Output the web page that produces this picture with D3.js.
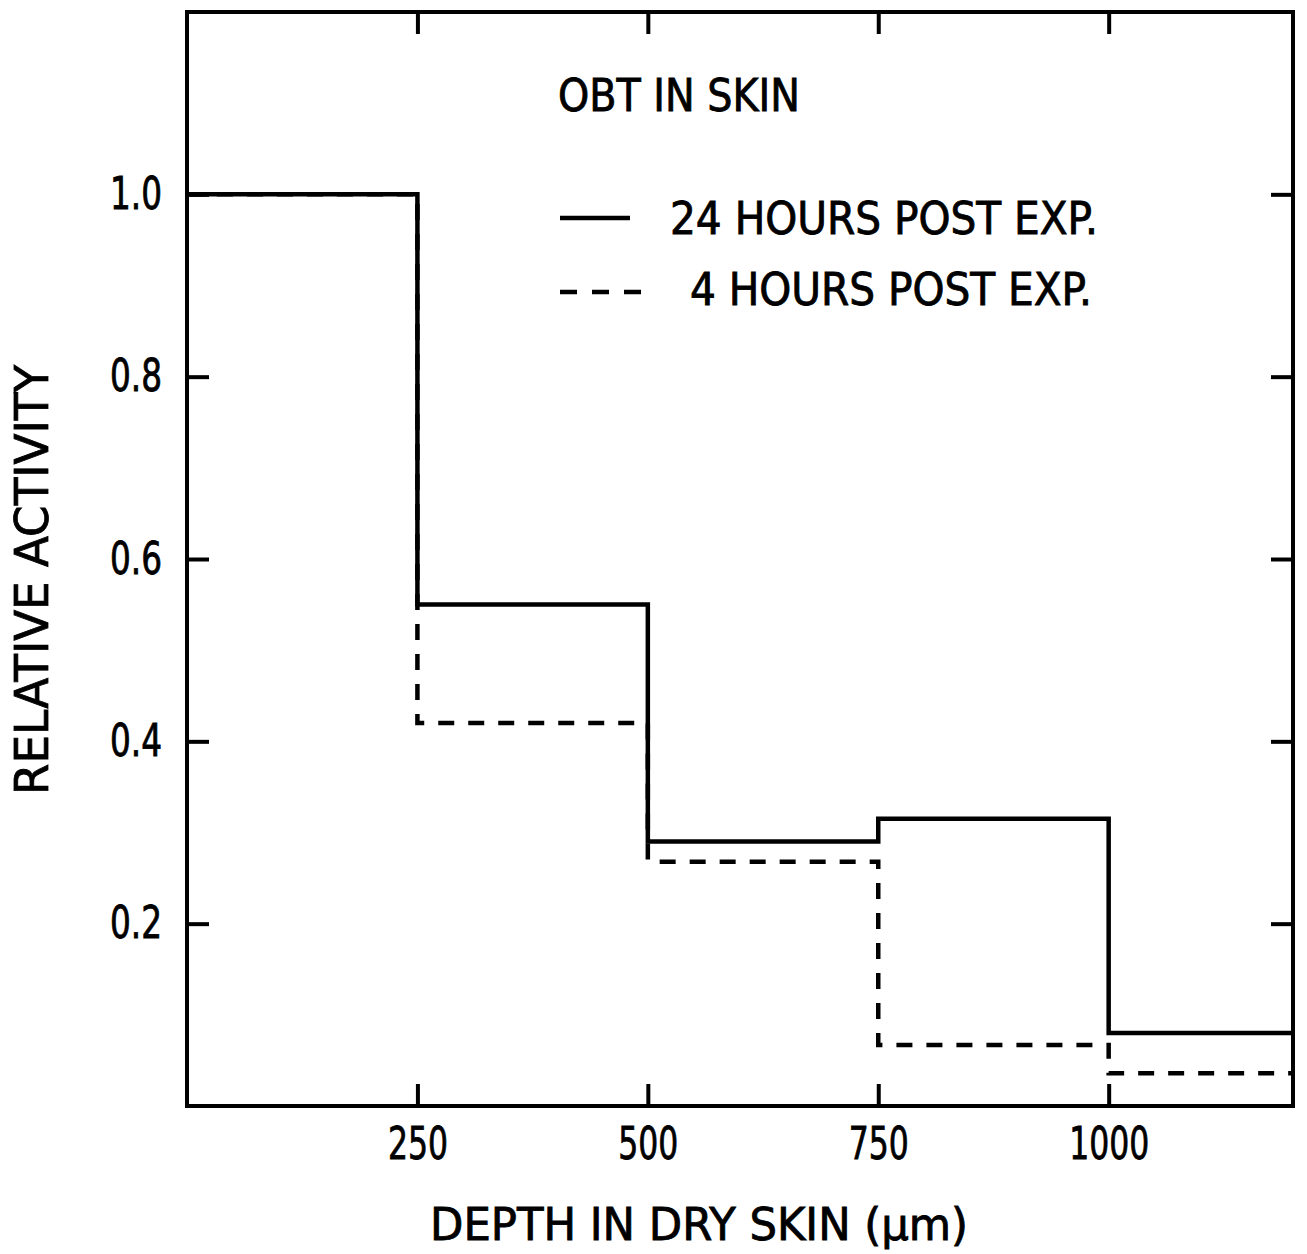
<!DOCTYPE html>
<html>
<head>
<meta charset="utf-8">
<script src="https://cdn.jsdelivr.net/npm/d3@7"></script>
<style>
  body { margin: 0; background: #fff; }
  text { font-family: "DejaVu Sans Condensed", "DejaVu Sans", sans-serif; fill: #000; stroke: #000; stroke-width: 0.8px; }
</style>
</head>
<body>
<div class="chart"></div>
<script>
// bin edges along depth (um) and relative activity per bin
const binEdges = [0, 250, 500, 750, 1000, 1200]
const hours24 = [1.0, 0.55, 0.29, 0.315, 0.08]
const hours4 = [1.0, 0.42, 0.268, 0.067, 0.036]
const xTicks = [250, 500, 750, 1000]
const yTicks = [0.2, 0.4, 0.6, 0.8, 1.0]
const legendLabels = ["24 HOURS POST EXP.", "4 HOURS POST EXP."]

const W = 1307, H = 1254
const margin = {top: 12, right: 14, bottom: 148, left: 187}

const svg = d3.select(".chart")
  .append("svg")
    .attr("width", W)
    .attr("height", H)

const x = d3.scaleLinear().domain([0, 1200]).range([margin.left, W - margin.right])
const y = d3.scaleLinear().domain([0, 1.2]).range([H - margin.bottom, margin.top])

const tick = 22
const fs = 44

// axes, ticks pointing inward
const gb = svg.append("g")
  .attr("transform", "translate(0," + y(0) + ")")
  .call(d3.axisBottom(x).tickValues(xTicks).tickSize(-tick).tickPadding(22).tickFormat(d3.format("d")))
const gl = svg.append("g")
  .attr("transform", "translate(" + x(0) + ",0)")
  .call(d3.axisLeft(y).tickValues(yTicks).tickSize(-tick).tickPadding(25).tickFormat(d3.format(".1f")))
const gt = svg.append("g")
  .attr("transform", "translate(0," + y(1.2) + ")")
  .call(d3.axisTop(x).tickValues(xTicks).tickSize(-tick).tickFormat(""))
const gr = svg.append("g")
  .attr("transform", "translate(" + x(1200) + ",0)")
  .call(d3.axisRight(y).tickValues(yTicks).tickSize(-tick).tickFormat(""))

for (const g of [gb, gl, gt, gr]) {
  g.select(".domain").remove()
  g.selectAll(".tick line").attr("stroke", "#000").attr("stroke-width", 4)
  g.selectAll(".tick text")
    .style("font-family", '"DejaVu Sans Condensed", "DejaVu Sans", sans-serif')
    .style("font-size", fs + "px")
    .attr("fill", "#000")
}
gb.selectAll(".tick text")
  .attr("textLength", d => String(d).length * 20)
  .attr("lengthAdjust", "spacingAndGlyphs")
gl.selectAll(".tick text")
  .attr("textLength", 52)
  .attr("lengthAdjust", "spacingAndGlyphs")

// frame
svg.append("rect")
  .attr("x", x(0)).attr("y", y(1.2))
  .attr("width", x(1200) - x(0)).attr("height", y(0) - y(1.2))
  .attr("fill", "none").attr("stroke", "#000").attr("stroke-width", 4)

// step series
const stepLine = d3.line()
  .x(d => x(d[0]))
  .y(d => y(d[1]))
  .curve(d3.curveStepAfter)

function steps (vals) {
  const pts = binEdges.slice(0, -1).map((e, i) => [e, vals[i]])
  pts.push([binEdges[binEdges.length - 1], vals[vals.length - 1]])
  return pts
}

svg.append("path")
  .datum(steps(hours4))
  .attr("d", stepLine)
  .attr("fill", "none")
  .attr("stroke", "#000")
  .attr("stroke-width", 4.5)
  .attr("stroke-dasharray", "16,14")

svg.append("path")
  .datum(steps(hours24))
  .attr("d", stepLine)
  .attr("fill", "none")
  .attr("stroke", "#000")
  .attr("stroke-width", 4.5)

// title and legend
svg.append("text")
  .attr("x", 558).attr("y", 111)
  .attr("textLength", 242).attr("lengthAdjust", "spacingAndGlyphs")
  .style("font-size", fs + "px")
  .text("OBT IN SKIN")

svg.append("line")
  .attr("x1", 560).attr("x2", 630).attr("y1", 218).attr("y2", 218)
  .attr("stroke", "#000").attr("stroke-width", 4.5)
svg.append("line")
  .attr("x1", 560).attr("x2", 642).attr("y1", 292).attr("y2", 292)
  .attr("stroke", "#000").attr("stroke-width", 4.5)
  .attr("stroke-dasharray", "17,15")

svg.append("text")
  .attr("x", 670).attr("y", 234)
  .attr("textLength", 428).attr("lengthAdjust", "spacingAndGlyphs")
  .style("font-size", fs + "px")
  .text(legendLabels[0])
svg.append("text")
  .attr("x", 690).attr("y", 305)
  .attr("textLength", 402).attr("lengthAdjust", "spacingAndGlyphs")
  .style("font-size", fs + "px")
  .text(legendLabels[1])

// axis titles
svg.append("text")
  .attr("x", 430).attr("y", 1240)
  .attr("textLength", 538).attr("lengthAdjust", "spacingAndGlyphs")
  .style("font-size", "45px")
  .text("DEPTH IN DRY SKIN (\u00b5m)")

svg.append("text")
  .attr("transform", "translate(48,795) rotate(-90)")
  .attr("textLength", 430).attr("lengthAdjust", "spacingAndGlyphs")
  .style("font-size", "46px")
  .text("RELATIVE  ACTIVITY")
</script>
</body>
</html>
